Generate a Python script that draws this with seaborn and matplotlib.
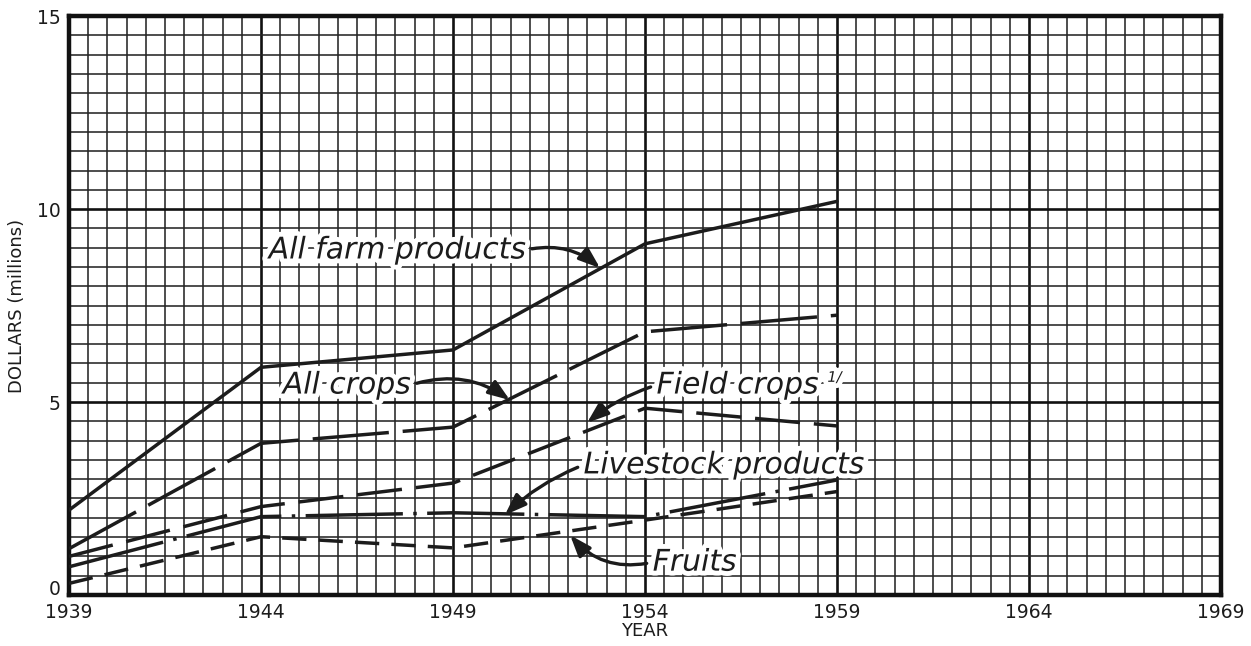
import matplotlib
matplotlib.use("Agg")
import matplotlib.pyplot as plt
import matplotlib.patheffects as pe
import numpy as np
import pandas as pd
import seaborn as sns

years = [1939, 1944, 1949, 1954, 1959]
all_farm_products = [2.2, 5.9, 6.35, 9.1, 10.2]
all_crops = [1.2, 3.93, 4.35, 6.82, 7.25]
field_crops = [1.0, 2.29, 2.9, 4.84, 4.38]
livestock_products = [0.73, 2.03, 2.13, 2.03, 2.98]
fruits = [0.3, 1.51, 1.22, 1.94, 2.68]

series_names = ["All farm products", "All crops", "Field crops",
                "Livestock products", "Fruits"]
series_values = [all_farm_products, all_crops, field_crops,
                 livestock_products, fruits]

x_ticks = [1939, 1944, 1949, 1954, 1959, 1964, 1969]
y_ticks = [0, 5, 10, 15]

rows = []
for name, vals in zip(series_names, series_values):
    for yr, v in zip(years, vals):
        rows.append({"year": yr, "value": v, "series": name})
df = pd.DataFrame(rows)

sns.set_theme(style="white")
plt.rcParams["font.family"] = ["DejaVu Sans"]

fig = plt.figure(figsize=(12.51, 6.46), dpi=100)
ax = fig.add_axes([0.0552, 0.079, 0.9208, 0.896])

ink = "#1c1c1c"
dashes = {
    "All farm products": "",
    "All crops": (22, 4),
    "Field crops": (13, 4),
    "Livestock products": (28, 3, 1, 3),
    "Fruits": (7, 3.5),
}
sns.lineplot(data=df, x="year", y="value", style="series", dashes=dashes,
             color=ink, linewidth=2.5, ax=ax, legend=False, zorder=5)

ax.set_xlim(1939, 1969)
ax.set_ylim(0, 15)
ax.set_xticks(x_ticks)
ax.set_xticklabels([str(t) for t in x_ticks])
ax.set_yticks(y_ticks)
ax.set_yticklabels([str(t) for t in y_ticks])
ax.set_xticks(np.arange(1939, 1969.01, 0.5), minor=True)
ax.set_yticks(np.arange(0, 15.01, 0.5), minor=True)
ax.grid(which="minor", color="#262626", linewidth=1.15, zorder=0)
ax.grid(which="major", color="#111111", linewidth=1.9, zorder=0)
ax.set_axisbelow(True)
ax.tick_params(which="both", length=0)
ax.tick_params(axis="x", labelsize=13.5, pad=6, colors=ink)
ax.tick_params(axis="y", labelsize=13.5, pad=6, colors=ink)
ylabels = ax.get_yticklabels()
ylabels[0].set_verticalalignment("baseline")
for s in ax.spines.values():
    s.set_visible(True)
    s.set_linewidth(3.2)
    s.set_color("#111111")

ax.set_xlabel("YEAR", fontsize=13, color=ink, labelpad=0)
ax.set_ylabel("DOLLARS (millions)", fontsize=13, color=ink, labelpad=8)

halo = [pe.withStroke(linewidth=7, foreground="white")]
tkw = dict(fontsize=21.5, style="italic", color=ink, zorder=10,
           path_effects=halo, va="center")

def note(text, xy, xytext, ha, rad):
    rel = (1.0, 0.5) if ha == "right" else (0.0, 0.5)
    ax.annotate(text, xy=xy, xytext=xytext, ha=ha, **tkw,
                arrowprops=dict(arrowstyle="-|>,head_length=0.6,head_width=0.22",
                                color=ink, lw=2.4, relpos=rel,
                                shrinkA=2, shrinkB=0,
                                connectionstyle=f"arc3,rad={rad}"))

note("All farm products", (1952.83, 8.47), (1950.9, 8.94), "right", -0.25)
note("All crops", (1950.48, 5.05), (1947.9, 5.44), "right", -0.25)
note("Field crops", (1952.49, 4.46), (1954.3, 5.44), "left", 0.1)
ax.text(1958.75, 5.64, "1/", fontsize=10.5, color=ink, style="italic",
        zorder=10, path_effects=halo, va="center", ha="left")
note("Livestock products", (1950.35, 2.07), (1952.4, 3.37), "left", 0.1)
note("Fruits", (1952.05, 1.55), (1954.2, 0.85), "left", -0.3)

fig.savefig("out.png", dpi=100, facecolor="white")
